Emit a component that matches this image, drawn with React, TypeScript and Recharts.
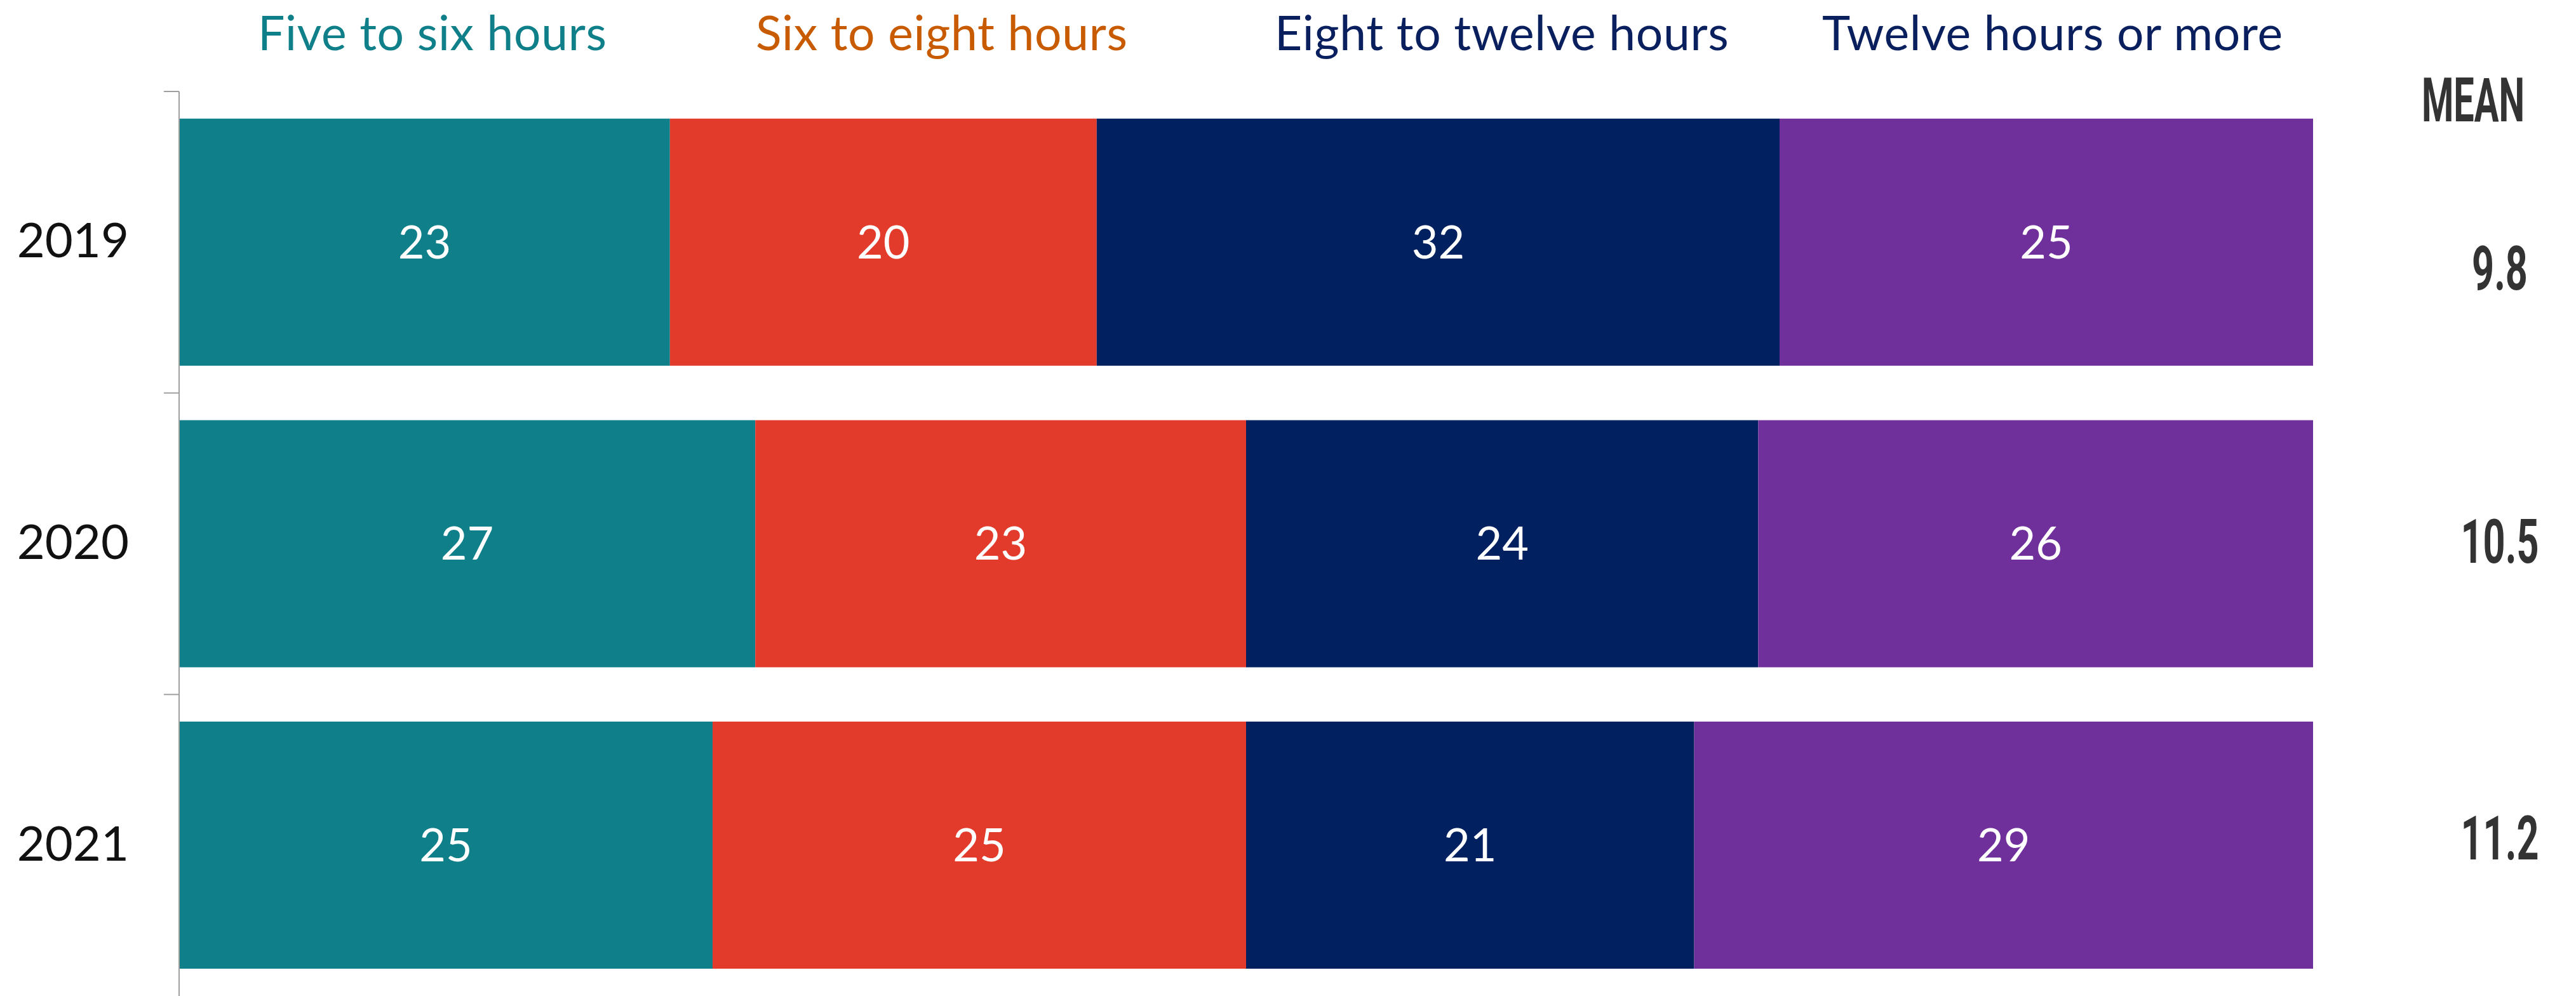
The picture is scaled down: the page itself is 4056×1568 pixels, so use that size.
import React from "react";
import { BarChart, Bar, XAxis, YAxis, Legend, LabelList } from "recharts";

// hours of sleep distribution (%) by survey year
const years = ["2019", "2020", "2021"];
const fiveToSix = [23, 27, 25];
const sixToEight = [20, 23, 25];
const eightToTwelve = [32, 24, 21];
const twelvePlus = [25, 26, 29];
const meanHours = ["9.8", "10.5", "11.2"];

const series = [
  { key: "fiveToSix", name: "Five to six hours", fill: "#0F7F89", text: "#0F7F89", legendX: 406 },
  { key: "sixToEight", name: "Six to eight hours", fill: "#E33B2B", text: "#C85A00", legendX: 1190 },
  { key: "eightToTwelve", name: "Eight to twelve hours", fill: "#00205F", text: "#0A205E", legendX: 2007 },
  { key: "twelvePlus", name: "Twelve hours or more", fill: "#70309C", text: "#0A205E", legendX: 2869 },
];

const data = years.map((year, i) => ({
  year,
  fiveToSix: fiveToSix[i],
  sixToEight: sixToEight[i],
  eightToTwelve: eightToTwelve[i],
  twelvePlus: twelvePlus[i],
}));

const W = 4056;
const H = 1568;
const TOP = 144;
const LEFT_W = 282;
const RIGHT_W = 414;
const YEAR_GAP = 79;
const MEAN_GAP = 294;
const BAND = (H - TOP) / years.length;
// the mean figures sit a little off the bar centres in the original
const MEAN_NUDGE = [40, -5, -13];

const sans = "Lato, 'Liberation Sans', sans-serif";
const narrowBold = "Roboto, 'Liberation Sans', sans-serif";

function YearTick(props: any) {
  const { x, y, payload } = props;
  const half = payload && payload.offset ? payload.offset : BAND / 2;
  const axisX = x + YEAR_GAP;
  return (
    <g>
      <line x1={axisX - 24} x2={axisX} y1={y - half} y2={y - half} stroke="#a0a0a0" strokeWidth={2} />
      <text x={x} y={y} dy={24} textAnchor="end" fontFamily={sans} fontSize={76} fill="#111">
        {payload.value}
      </text>
    </g>
  );
}

function MeanTick(props: any) {
  const { x, y, payload } = props;
  const i = years.indexOf(payload.value);
  return (
    <g transform={`translate(${x},${y + MEAN_NUDGE[i]}) scale(0.63,1)`}>
      <text x={0} y={0} dy={35} textAnchor="middle" fontFamily={narrowBold} fontWeight={700} fontSize={97} fill="#333">
        {meanHours[i]}
      </text>
    </g>
  );
}

function LegendRow() {
  return (
    <svg width={W} height={220} style={{ overflow: "visible", display: "block" }}>
      {series.map((s) => (
        <text key={s.key} x={s.legendX} y={79} fontFamily={sans} fontSize={75} letterSpacing={0.7} fill={s.text}>
          {s.name}
        </text>
      ))}
      <g transform="translate(3894,191) scale(0.6,1)">
        <text x={0} y={0} textAnchor="middle" fontFamily={narrowBold} fontWeight={700} fontSize={96} fill="#333">
          MEAN
        </text>
      </g>
    </svg>
  );
}

export default function App() {
  return (
    <div style={{ position: "absolute", left: 0, top: 0, width: W, height: H, background: "#fff" }}>
      <BarChart
        width={W}
        height={H}
        data={data}
        layout="vertical"
        margin={{ top: TOP, right: 0, bottom: 0, left: 0 }}
        barCategoryGap="9%"
      >
        <XAxis type="number" domain={[0, 100]} hide />
        <YAxis
          type="category"
          dataKey="year"
          width={LEFT_W}
          axisLine={{ stroke: "#a0a0a0", strokeWidth: 2 }}
          tickLine={false}
          tickSize={0}
          tickMargin={YEAR_GAP}
          tick={<YearTick />}
        />
        <YAxis
          yAxisId="mean"
          orientation="right"
          type="category"
          dataKey="year"
          width={RIGHT_W}
          axisLine={false}
          tickLine={false}
          tickSize={0}
          tickMargin={MEAN_GAP}
          tick={<MeanTick />}
        />
        <Legend
          verticalAlign="middle"
          layout="horizontal"
          wrapperStyle={{ top: 0, left: 0, width: W, height: TOP }}
          content={() => <LegendRow />}
        />
        {series.map((s) => (
          <Bar key={s.key} dataKey={s.key} name={s.name} stackId="a" fill={s.fill} isAnimationActive={false}>
            <LabelList dataKey={s.key} position="center" fill="#ffffff" fontSize={72} fontFamily={sans} />
          </Bar>
        ))}
      </BarChart>
    </div>
  );
}
